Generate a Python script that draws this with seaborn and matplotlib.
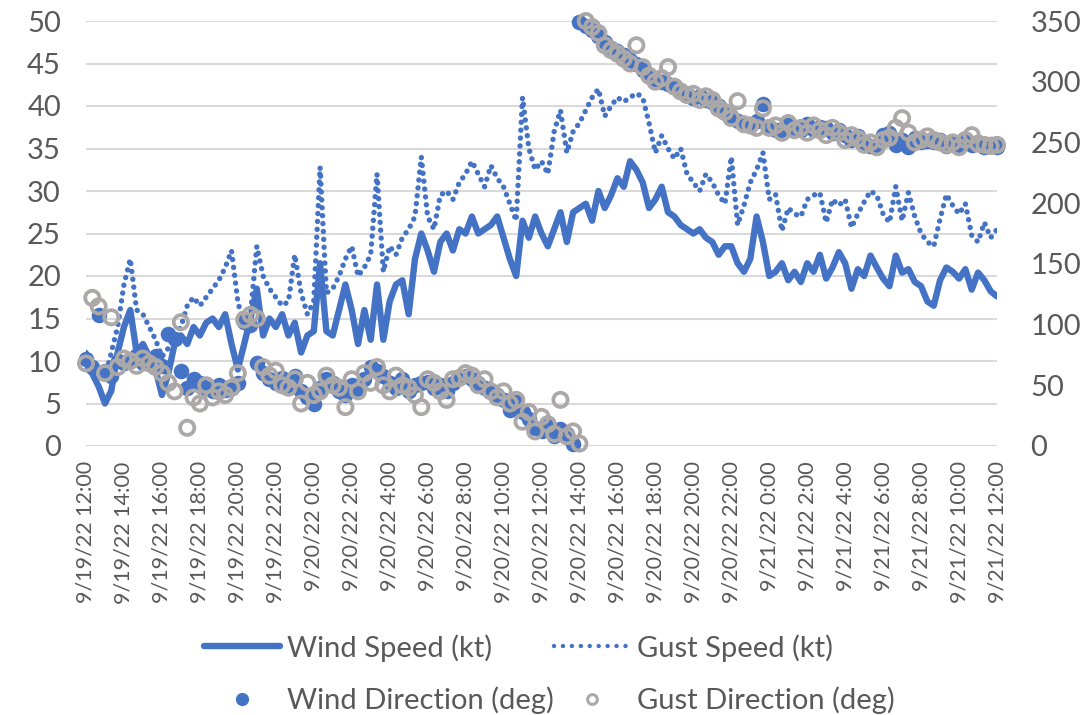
import numpy as np
import pandas as pd
import matplotlib
matplotlib.use("Agg")
import matplotlib.pyplot as plt
import matplotlib.dates as mdates
from matplotlib.lines import Line2D
import seaborn as sns

# 20-minute observations, 9/19/22 12:00 -> 9/21/22 12:00
times = pd.date_range("2022-09-19 12:00", "2022-09-21 12:00", freq="20min")

wind_speed = [
    9.5, 8.5, 7, 5, 6.5, 11, 14, 16, 11, 12,
    10.5, 9, 6, 8.5, 12, 13, 12, 14, 13, 14.5,
    15, 14, 15.5, 12, 9, 12, 15, 18.5, 13, 15,
    14, 15.5, 13, 14.5, 11, 13, 13.5, 21.5, 13.5, 13,
    16, 19, 16, 12, 16, 12.5, 19, 12.5, 17, 19,
    19.5, 15.5, 22, 25, 23, 20.5, 24, 25, 23, 25.5,
    25, 27, 25, 25.5, 26, 27, 24.5, 22, 20, 26.5,
    24.5, 27, 25, 23.5, 25.5, 27.5, 24, 27.5, 28, 28.5,
    26.5, 30, 28, 29.5, 31.5, 30.5, 33.5, 32.5, 31, 28,
    29, 30.5, 27.5, 27, 26, 25.5, 25, 25.5, 24.5, 24,
    22.5, 23.5, 23.5, 21.5, 20.5, 22, 27, 24, 20, 20.5,
    21.5, 19.5, 20.5, 19.3, 21.5, 20.5, 22.5, 19.7, 21, 22.8,
    21.5, 18.5, 20.8, 20, 22.4, 21, 19.7, 18.8, 22.4, 20.4,
    20.8, 19.3, 18.8, 17, 16.5, 19.5, 21, 20.5, 19.7, 20.8,
    18.4, 20.4, 19.5, 18.2, 17.6,
]

gust_speed = [
    11, 10, 9, 8, 11, 14, 19, 22, 16, 15.5,
    14, 12.5, 10.5, 11.5, 13, 14, 16.5, 17.5, 16.5, 17.5,
    18.5, 19.5, 21, 23, 17, 14, 15.5, 23.5, 20, 18.5,
    17.5, 16.5, 17, 22.5, 18, 15.5, 17, 32.8, 18, 18.5,
    20, 22, 23.5, 20, 21, 22.5, 32, 20.5, 23.5, 22.5,
    24.5, 25.5, 27, 34, 27, 25.5, 29.5, 30, 29, 31,
    32, 33.5, 32, 30.5, 33, 31.5, 30.5, 28.5, 26.5, 41,
    35, 32.5, 33.5, 32, 37, 39.5, 34.5, 37, 38, 39.5,
    41, 42, 38.8, 40, 41, 40.5, 41, 41.5, 41, 38,
    34.5, 36.5, 35, 33.8, 35, 32, 31, 30, 32, 31,
    29.5, 28.5, 34, 26, 28.3, 31, 32.5, 34.5, 29, 29.6,
    25.3, 28, 27.3, 27, 29, 29.5, 29.8, 26.3, 29, 28.3,
    29, 25.7, 27.3, 28.7, 30, 29.5, 27.3, 26.3, 30.5, 26.5,
    29.8, 27, 25, 24, 23.5, 26.7, 29.6, 28.3, 27.3, 28.5,
    24.8, 24, 26.3, 24.5, 25.5,
]

wind_dir = [
    72, 65, 108, 62, 58, 70, 68, 72, 75, 68,
    70, 74, 66, 92, 88, 62, 48, 55, 52, 48,
    45, 50, 46, 48, 52, 102, 100, 68, 60, 55,
    52, 56, 50, 58, 45, 40, 35, 48, 55, 52,
    45, 42, 50, 45, 55, 65, 62, 58, 52, 48,
    55, 45, 50, 52, 53, 48, 50, 45, 52, 56,
    58, 55, 52, 48, 45, 42, 38, 30, 36, 28,
    22, 15, 12, 18, 8, 14, 10, 2, 349, 346,
    343, 338, 333, 328, 325, 322, 318, 315, 310, 305,
    302, 300, 298, 296, 292, 290, 287, 288, 285, 283,
    280, 276, 272, 268, 266, 264, 268, 282, 262, 260,
    258, 264, 262, 260, 265, 260, 263, 262, 258, 260,
    256, 252, 255, 250, 247, 248, 256, 258, 248, 252,
    246, 254, 250, 251, 250, 252, 247, 250, 248, 252,
    248, 250, 246, 249, 246,
]

gust_dir = [
    68, 122, 115, 60, 106, 65, 72, 70, 66, 72,
    68, 65, 60, 52, 45, 102, 15, 40, 35, 50,
    40, 45, 42, 48, 60, 104, 108, 105, 65, 58,
    62, 50, 48, 55, 35, 52, 42, 45, 58, 50,
    48, 32, 55, 45, 60, 52, 65, 50, 45, 58,
    50, 48, 42, 32, 55, 52, 45, 38, 55, 56,
    60, 58, 50, 55, 45, 40, 45, 35, 38, 20,
    28, 12, 24, 18, 10, 38, 8, 12, 2, 350,
    345, 340, 330, 326, 323, 319, 315, 330, 312, 305,
    300, 303, 312, 296, 292, 289, 290, 285, 288, 285,
    278, 275, 270, 284, 265, 264, 262, 278, 262, 264,
    258, 266, 260, 262, 258, 264, 260, 256, 262, 258,
    252, 256, 253, 248, 250, 246, 252, 254, 262, 270,
    258, 250, 252, 255, 252, 250, 248, 250, 246, 252,
    256, 249, 248, 247, 248,
]

BLUE = "#4472C4"
GRAY = "#ABA8A7"
TEXT = "#595959"
GRID = "#D9D9D9"
DOTS = (0, (0.01, 1.45))

sns.set_theme(style="white")
plt.rcParams["font.family"] = ["Lato", "DejaVu Sans"]

df = pd.DataFrame({
    "time": times,
    "wind_speed": wind_speed,
    "gust_speed": gust_speed,
    "wind_dir": wind_dir,
    "gust_dir": gust_dir,
})

fig = plt.figure(figsize=(10.91, 7.15), dpi=100)
ax = fig.add_axes([86 / 1091, 1 - 446 / 715, 911 / 1091, 425 / 715])
ax.set_facecolor("white")
ax2 = ax.twinx()

sns.lineplot(data=df, x="time", y="wind_speed", ax=ax, color=BLUE, linewidth=4.6,
             solid_joinstyle="round", solid_capstyle="round", legend=False)
sns.lineplot(data=df, x="time", y="gust_speed", ax=ax, color=BLUE, linewidth=3.9,
             linestyle=DOTS, dash_capstyle="round", legend=False)

sns.scatterplot(data=df, x="time", y="wind_dir", ax=ax2, color=BLUE, s=125,
                linewidth=0, clip_on=False, legend=False)
sns.scatterplot(data=df, x="time", y="gust_dir", ax=ax2, facecolor="none",
                edgecolor=GRAY, s=105, linewidth=2.7, clip_on=False, legend=False)

ax.set_xlim(times[0], times[-1])
ax.set_ylim(0, 50)
ax.set_yticks(np.arange(0, 51, 5))
ax2.set_ylim(0, 350)
ax2.set_yticks(np.arange(0, 351, 50))

ax.grid(axis="y", color=GRID, linewidth=1.5)
ax.grid(axis="x", visible=False)
ax2.grid(False)
ax.set_axisbelow(True)
for a in (ax, ax2):
    for sp in a.spines.values():
        sp.set_visible(False)
    a.set_xlabel("")
    a.set_ylabel("")

ax.xaxis.set_major_locator(mdates.HourLocator(byhour=range(0, 24, 2)))
ax.xaxis.set_major_formatter(mdates.DateFormatter("%-m/%-d/%y %-H:%M"))
ax.tick_params(axis="x", labelrotation=90, labelsize=15.5, colors=TEXT, length=0, pad=11)
ax.tick_params(axis="y", labelsize=21, colors=TEXT, length=0, pad=18)
ax2.tick_params(axis="y", labelsize=21, colors=TEXT, length=0, pad=24)
for lbl in ax.get_xticklabels():
    lbl.set_verticalalignment("top")
    lbl.set_horizontalalignment("center")

handles = [
    Line2D([], [], color=BLUE, linewidth=4.6, solid_capstyle="round"),
    Line2D([], [], color=BLUE, marker="o", linestyle="none", markersize=9.5, markeredgewidth=0),
    Line2D([], [], color=BLUE, linewidth=3.2, linestyle=(0, (0.01, 2.0)), dash_capstyle="round"),
    Line2D([], [], marker="o", linestyle="none", markersize=7, markerfacecolor="none",
           markeredgecolor=GRAY, markeredgewidth=2.2),
]
labels = ["Wind Speed (kt)", "Wind Direction (deg)", "Gust Speed (kt)", "Gust Direction (deg)"]
leg = fig.legend(handles, labels, ncol=2, loc="upper left",
                 bbox_to_anchor=(204 / 1091, 1 - 634 / 715), frameon=False,
                 fontsize=21, borderpad=0, borderaxespad=0, handlelength=2.6,
                 handletextpad=0.25, columnspacing=0.0, labelspacing=0.85)
for t in leg.get_texts():
    t.set_color(TEXT)

fig.savefig("out.png", dpi=100, facecolor="white")
